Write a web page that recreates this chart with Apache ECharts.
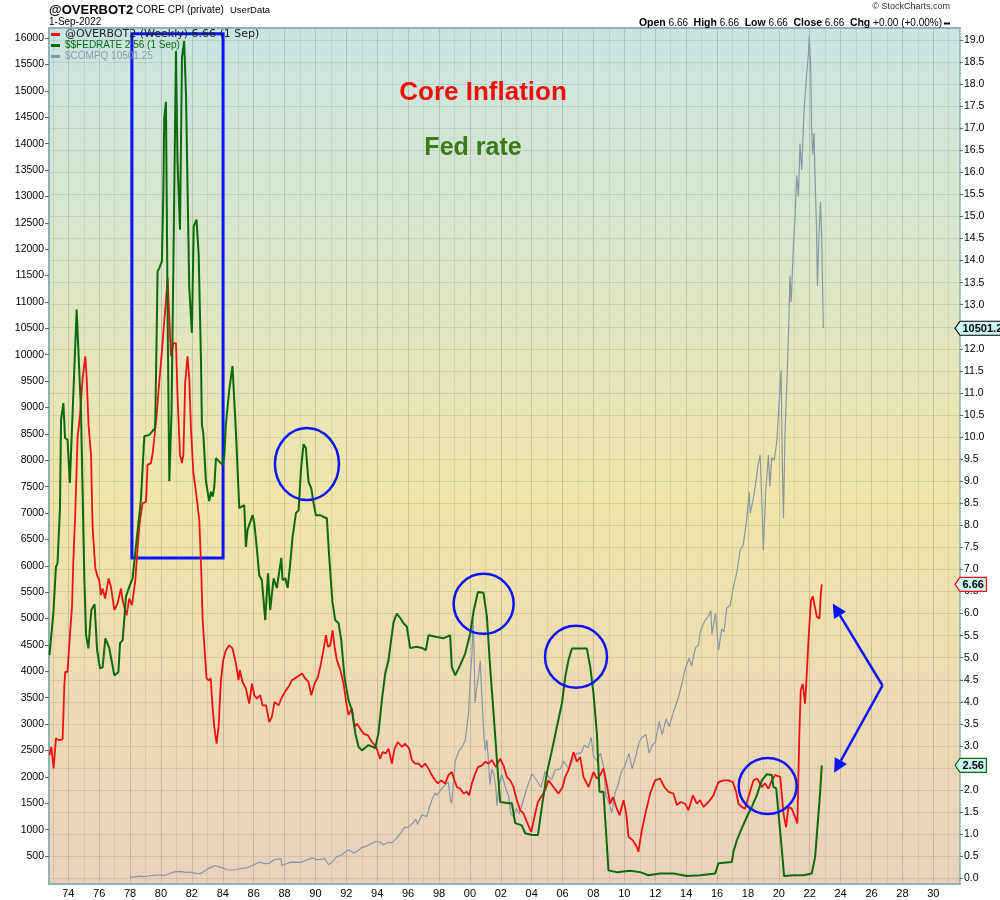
<!DOCTYPE html>
<html>
<head>
<meta charset="utf-8">
<style>
  html, body { margin: 0; padding: 0; background: #fff; }
  #chart { width: 1000px; height: 900px; }
</style>
<script src="https://cdn.jsdelivr.net/npm/echarts@6/dist/echarts.min.js"></script>
</head>
<body>
<div id="chart"></div>
<script>
// Core CPI (private), weekly user data, % y/y  -> right axis
const coreCpi = [
  [1972.78, 2.79], [1972.9, 2.98], [1973.05, 2.49], [1973.2, 3.17], [1973.4, 3.13], [1973.63, 3.15],
  [1973.74, 4.34], [1973.8, 4.68], [1973.95, 4.68], [1974.11, 5.55], [1974.24, 6.15], [1974.32, 7.14],
  [1974.45, 8.27], [1974.6, 9.98], [1974.76, 10.51], [1974.93, 11.34], [1975.1, 11.83], [1975.19, 11.34],
  [1975.31, 10.28], [1975.47, 9.6], [1975.57, 7.97], [1975.75, 7.02], [1975.9, 6.83], [1976.0, 6.76],
  [1976.12, 6.42], [1976.22, 6.57], [1976.38, 6.34], [1976.61, 6.8], [1976.76, 6.61], [1976.98, 6.08],
  [1977.19, 6.23], [1977.41, 6.57], [1977.52, 6.3], [1977.77, 5.96], [1977.95, 6.34], [1978.12, 6.19],
  [1978.34, 6.76], [1978.49, 7.51], [1978.64, 8.12], [1978.81, 8.5], [1979.03, 8.53], [1979.13, 9.37],
  [1979.35, 9.41], [1979.45, 9.6], [1979.57, 9.98], [1979.72, 10.51], [1979.89, 11.26], [1980.06, 11.94],
  [1980.21, 12.62], [1980.32, 13.08], [1980.43, 13.61], [1980.54, 12.7], [1980.65, 11.83], [1980.8, 12.13],
  [1980.97, 12.13], [1981.07, 10.96], [1981.23, 9.6], [1981.36, 9.41], [1981.45, 9.6], [1981.57, 11.26],
  [1981.72, 11.83], [1981.83, 11.34], [1981.94, 10.2], [1982.09, 9.22], [1982.26, 8.77], [1982.37, 8.8],
  [1982.48, 8.12], [1982.59, 7.14], [1982.7, 5.85], [1982.87, 4.94], [1982.95, 4.53], [1983.08, 4.49],
  [1983.22, 4.53], [1983.34, 3.88], [1983.45, 3.43], [1983.6, 3.05], [1983.73, 3.43], [1983.88, 4.49],
  [1984.03, 4.94], [1984.2, 5.17], [1984.42, 5.28], [1984.63, 5.21], [1984.85, 4.87], [1985.02, 4.49],
  [1985.1, 4.72], [1985.28, 4.45], [1985.5, 4.3], [1985.71, 3.96], [1985.89, 4.41], [1986.04, 4.15],
  [1986.21, 4.07], [1986.43, 4.15], [1986.57, 3.92], [1986.8, 3.92], [1987.01, 3.54], [1987.18, 3.66],
  [1987.35, 4.0], [1987.61, 3.92], [1987.83, 4.11], [1988.09, 4.26], [1988.26, 4.34], [1988.48, 4.49],
  [1988.8, 4.56], [1989.13, 4.64], [1989.34, 4.53], [1989.55, 4.45], [1989.73, 4.15], [1989.94, 4.41],
  [1990.16, 4.56], [1990.31, 4.79], [1990.52, 5.17], [1990.68, 5.51], [1990.81, 5.25], [1990.96, 5.28],
  [1991.11, 5.62], [1991.24, 5.25], [1991.39, 4.94], [1991.61, 4.72], [1991.82, 4.41], [1991.97, 4.04],
  [1992.14, 3.7], [1992.36, 3.85], [1992.53, 3.43], [1992.69, 3.51], [1992.9, 3.39], [1993.11, 3.28],
  [1993.4, 3.24], [1993.66, 3.09], [1993.92, 2.98], [1994.19, 2.71], [1994.34, 2.86], [1994.56, 2.83],
  [1994.73, 2.94], [1994.95, 2.6], [1995.12, 2.94], [1995.34, 3.09], [1995.6, 2.98], [1995.81, 3.05],
  [1996.07, 2.94], [1996.24, 2.68], [1996.46, 2.6], [1996.67, 2.6], [1996.89, 2.52], [1997.1, 2.6],
  [1997.32, 2.49], [1997.53, 2.34], [1997.75, 2.22], [1997.93, 2.15], [1998.14, 2.22], [1998.4, 2.15],
  [1998.61, 2.34], [1998.83, 2.41], [1999.0, 2.22], [1999.16, 2.07], [1999.37, 2.03], [1999.59, 1.92],
  [1999.8, 1.96], [1999.95, 1.88], [2000.13, 2.15], [2000.34, 2.37], [2000.52, 2.52], [2000.78, 2.56],
  [2000.99, 2.64], [2001.2, 2.6], [2001.42, 2.68], [2001.68, 2.52], [2001.96, 2.71], [2002.17, 2.56],
  [2002.39, 2.3], [2002.61, 2.22], [2002.82, 2.07], [2003.04, 1.77], [2003.26, 1.54], [2003.47, 1.47],
  [2003.69, 1.28], [2003.97, 1.05], [2004.23, 1.47], [2004.4, 1.73], [2004.61, 1.84], [2004.87, 2.0],
  [2005.09, 2.22], [2005.41, 2.07], [2005.74, 1.92], [2006.0, 2.07], [2006.17, 2.3], [2006.38, 2.45],
  [2006.71, 2.86], [2006.92, 2.64], [2007.14, 2.75], [2007.35, 2.3], [2007.68, 2.07], [2008.0, 2.41],
  [2008.22, 2.26], [2008.43, 2.34], [2008.65, 2.49], [2008.87, 2.11], [2009.08, 1.69], [2009.26, 1.84],
  [2009.47, 1.62], [2009.69, 1.43], [2009.95, 1.77], [2010.12, 1.47], [2010.27, 0.94], [2010.55, 0.86],
  [2010.81, 0.71], [2010.91, 0.6], [2011.13, 1.09], [2011.41, 1.54], [2011.67, 1.92], [2011.99, 2.22],
  [2012.32, 2.26], [2012.58, 2.07], [2012.86, 1.96], [2013.18, 1.92], [2013.4, 1.66], [2013.66, 1.73],
  [2013.94, 1.69], [2014.15, 1.54], [2014.44, 1.88], [2014.69, 1.69], [2014.91, 1.77], [2015.12, 1.62],
  [2015.45, 1.73], [2015.77, 1.88], [2016.09, 2.18], [2016.41, 2.22], [2016.74, 2.22], [2017.02, 2.18],
  [2017.24, 1.96], [2017.39, 1.69], [2017.6, 1.62], [2017.82, 1.58], [2018.03, 1.84], [2018.36, 2.22],
  [2018.61, 2.26], [2018.9, 2.07], [2019.11, 2.15], [2019.33, 2.03], [2019.55, 2.22], [2019.76, 2.34],
  [2020.09, 2.3], [2020.3, 1.47], [2020.47, 1.16], [2020.62, 1.62], [2020.84, 1.58], [2021.05, 1.39],
  [2021.2, 1.24], [2021.33, 3.28], [2021.42, 4.26], [2021.55, 4.41], [2021.7, 3.96], [2021.81, 4.64],
  [2021.92, 5.4], [2022.08, 6.3], [2022.2, 6.39], [2022.31, 6.38], [2022.46, 5.93], [2022.63, 5.89],
  [2022.72, 6.46], [2022.78, 6.66]
];

// $$FEDRATE, %  -> right axis
const fedRate = [
  [1972.78, 5.06], [1973.03, 6.0], [1973.2, 7.06], [1973.3, 7.14], [1973.46, 8.39], [1973.53, 10.39],
  [1973.68, 10.77], [1973.79, 9.98], [1973.95, 9.94], [1974.1, 8.96], [1974.54, 12.89], [1974.82, 10.6],
  [1975.04, 6.76], [1975.15, 5.51], [1975.3, 5.21], [1975.49, 6.08], [1975.7, 6.21], [1975.86, 5.19],
  [1976.05, 4.76], [1976.22, 4.78], [1976.4, 5.44], [1976.65, 5.22], [1976.8, 4.94], [1976.98, 4.6],
  [1977.24, 4.67], [1977.35, 5.33], [1977.52, 5.4], [1977.73, 6.38], [1977.95, 6.61], [1978.16, 6.8],
  [1978.42, 7.66], [1978.7, 8.57], [1978.92, 10.02], [1979.24, 10.05], [1979.6, 10.2], [1979.63, 10.36],
  [1979.75, 13.0], [1979.78, 13.76], [1979.89, 13.83], [1980.06, 13.99], [1980.15, 15.5], [1980.21, 17.23],
  [1980.32, 17.6], [1980.45, 12.0], [1980.54, 9.0], [1980.68, 10.5], [1980.8, 13.8], [1980.97, 18.75],
  [1981.07, 16.26], [1981.23, 14.7], [1981.36, 18.6], [1981.5, 18.98], [1981.62, 17.76], [1981.83, 13.38],
  [1982.0, 12.36], [1982.12, 14.78], [1982.3, 14.93], [1982.44, 14.14], [1982.59, 11.72], [1982.65, 10.27],
  [1982.74, 10.09], [1982.91, 9.0], [1983.12, 8.55], [1983.24, 8.76], [1983.35, 8.65], [1983.45, 8.87],
  [1983.56, 9.52], [1983.77, 9.45], [1983.99, 9.37], [1984.1, 9.57], [1984.2, 10.28], [1984.42, 11.07],
  [1984.63, 11.61], [1984.86, 10.05], [1985.07, 8.39], [1985.39, 8.46], [1985.5, 7.51], [1985.6, 7.89],
  [1985.93, 8.23], [1986.04, 8.05], [1986.2, 7.5], [1986.36, 6.87], [1986.53, 6.76], [1986.75, 5.85],
  [1986.93, 6.91], [1987.07, 6.08], [1987.29, 6.8], [1987.5, 6.58], [1987.79, 7.26], [1987.87, 6.76],
  [1988.05, 6.8], [1988.2, 6.58], [1988.37, 7.14], [1988.52, 7.74], [1988.74, 8.28], [1988.91, 8.34],
  [1989.06, 9.25], [1989.23, 9.84], [1989.38, 9.75], [1989.55, 8.99], [1989.73, 8.84], [1989.88, 8.5],
  [1990.03, 8.23], [1990.31, 8.23], [1990.52, 8.19], [1990.74, 8.16], [1990.89, 7.29], [1991.1, 6.27],
  [1991.28, 5.85], [1991.5, 5.78], [1991.67, 5.4], [1991.88, 4.56], [1992.14, 4.04], [1992.36, 3.81],
  [1992.58, 3.29], [1992.79, 2.98], [1993.01, 2.9], [1993.44, 3.02], [1993.87, 2.95], [1994.08, 3.29],
  [1994.3, 4.04], [1994.52, 4.65], [1994.73, 4.94], [1994.9, 5.4], [1995.06, 5.81], [1995.27, 6.0],
  [1995.49, 5.9], [1995.7, 5.78], [1995.92, 5.7], [1996.13, 5.22], [1996.57, 5.25], [1996.89, 5.22],
  [1997.15, 5.17], [1997.32, 5.51], [1997.86, 5.47], [1998.29, 5.44], [1998.72, 5.51], [1998.83, 4.79],
  [1999.05, 4.6], [1999.37, 4.83], [1999.7, 5.1], [2000.02, 5.55], [2000.23, 6.04], [2000.52, 6.49],
  [2000.88, 6.47], [2001.1, 5.93], [2001.31, 4.79], [2001.53, 3.74], [2001.75, 2.68], [2001.96, 1.73],
  [2002.5, 1.7], [2002.72, 1.7], [2002.93, 1.25], [2003.36, 1.2], [2003.58, 1.02], [2004.01, 0.98],
  [2004.4, 0.98], [2004.66, 1.62], [2004.98, 2.38], [2005.31, 2.9], [2005.63, 3.43], [2005.96, 3.97],
  [2006.17, 4.56], [2006.38, 4.94], [2006.6, 5.21], [2007.14, 5.21], [2007.57, 5.21], [2007.79, 4.79],
  [2008.0, 4.19], [2008.22, 3.29], [2008.39, 1.96], [2008.65, 1.96], [2008.82, 1.02], [2008.97, 0.18],
  [2009.51, 0.14], [2010.37, 0.17], [2011.02, 0.14], [2011.56, 0.07], [2012.32, 0.11], [2013.18, 0.11],
  [2014.05, 0.05], [2014.91, 0.07], [2015.88, 0.11], [2016.09, 0.34], [2016.96, 0.37], [2017.06, 0.6],
  [2017.28, 0.86], [2017.6, 1.13], [2017.93, 1.39], [2018.25, 1.62], [2018.57, 1.88], [2018.9, 2.22],
  [2019.22, 2.36], [2019.55, 2.34], [2019.65, 2.07], [2019.83, 2.04], [2019.98, 1.47], [2020.2, 0.63],
  [2020.34, 0.05], [2020.95, 0.07], [2021.59, 0.07], [2022.13, 0.11], [2022.35, 0.48], [2022.5, 1.16],
  [2022.67, 1.92], [2022.78, 2.56]
];

// $COMPQ -> left axis
const compq = [
  [1978.01, 100], [1978.3, 105], [1978.6, 118], [1978.85, 110], [1979.2, 122], [1979.5, 135], [1979.8, 140],
  [1979.95, 145], [1980.2, 130], [1980.5, 160], [1980.85, 200], [1981.25, 210], [1981.6, 190], [1981.9, 195],
  [1982.3, 170], [1982.54, 165], [1982.9, 230], [1983.2, 280], [1983.5, 320], [1983.9, 280], [1984.3, 240],
  [1984.6, 235], [1984.9, 245], [1985.3, 270], [1985.57, 275], [1985.9, 320], [1986.2, 360], [1986.43, 385],
  [1986.7, 355], [1987.0, 360], [1987.3, 430], [1987.6, 440], [1987.78, 450], [1987.82, 320], [1987.94, 310],
  [1988.3, 375], [1988.6, 385], [1989.02, 380], [1989.4, 420], [1989.78, 465], [1990.1, 430], [1990.42, 440],
  [1990.6, 450], [1990.85, 335], [1991.1, 390], [1991.39, 490], [1991.7, 520], [1991.95, 580], [1992.14, 620],
  [1992.47, 560], [1992.7, 590], [1993.01, 660], [1993.3, 690], [1993.66, 740], [1993.98, 780], [1994.2, 760],
  [1994.41, 710], [1994.7, 760], [1994.95, 750], [1995.2, 820], [1995.5, 930], [1995.75, 1040], [1996.03, 1050],
  [1996.3, 1120], [1996.5, 1200], [1996.6, 1100], [1996.9, 1280], [1997.22, 1250], [1997.35, 1400],
  [1997.54, 1560], [1997.75, 1700], [1997.86, 1650], [1998.1, 1750], [1998.4, 1850], [1998.6, 1900],
  [1998.75, 1550], [1998.83, 1500], [1999.05, 2300], [1999.3, 2500], [1999.48, 2550], [1999.7, 2700],
  [1999.91, 3200], [2000.05, 4000], [2000.13, 4300], [2000.2, 5050], [2000.27, 4400], [2000.33, 3400],
  [2000.45, 3700], [2000.55, 3900], [2000.67, 4200], [2000.78, 3500], [2000.9, 2800], [2000.99, 2500],
  [2001.1, 2700], [2001.2, 2300], [2001.3, 1850], [2001.42, 2150], [2001.55, 2050], [2001.68, 1800],
  [2001.75, 1450], [2001.85, 1750], [2002.06, 2050], [2002.3, 1800], [2002.5, 1650], [2002.65, 1300],
  [2002.82, 1250], [2003.0, 1400], [2003.2, 1300], [2003.4, 1500], [2003.7, 1800], [2004.01, 2050],
  [2004.3, 1950], [2004.6, 1800], [2004.87, 2100], [2005.1, 2000], [2005.3, 1950], [2005.52, 2130],
  [2005.85, 2150], [2006.06, 2300], [2006.4, 2150], [2006.71, 2350], [2006.95, 2450], [2007.2, 2450],
  [2007.4, 2600], [2007.65, 2550], [2007.85, 2750], [2008.0, 2400], [2008.22, 2300], [2008.45, 2450],
  [2008.65, 2200], [2008.8, 1650], [2008.95, 1550], [2009.19, 1320], [2009.4, 1700], [2009.6, 1850],
  [2009.8, 2100], [2010.03, 2200], [2010.3, 2450], [2010.5, 2150], [2010.7, 2350], [2010.95, 2650],
  [2011.13, 2750], [2011.4, 2800], [2011.6, 2450], [2011.8, 2600], [2012.0, 2650], [2012.25, 3050],
  [2012.45, 2800], [2012.7, 3100], [2012.9, 2950], [2013.2, 3250], [2013.5, 3500], [2013.75, 3800],
  [2013.94, 4050], [2014.2, 4250], [2014.35, 4100], [2014.6, 4450], [2014.8, 4500], [2014.91, 4750],
  [2015.2, 4950], [2015.45, 5050], [2015.6, 5150], [2015.67, 4700], [2015.9, 5100], [2016.1, 4400],
  [2016.3, 4800], [2016.45, 4750], [2016.63, 5200], [2016.85, 5250], [2017.06, 5600], [2017.3, 5900],
  [2017.5, 6300], [2017.7, 6400], [2017.93, 6900], [2018.08, 7400], [2018.15, 7000], [2018.3, 7200],
  [2018.47, 7500], [2018.65, 7900], [2018.79, 8100], [2018.88, 7400], [2019.0, 6300], [2019.15, 7400],
  [2019.33, 8100], [2019.42, 7500], [2019.55, 8050], [2019.7, 8000], [2019.87, 8350], [2020.0, 9000],
  [2020.15, 9700], [2020.22, 8000], [2020.3, 6900], [2020.4, 8500], [2020.55, 9700], [2020.65, 10600],
  [2020.72, 11500], [2020.8, 11000], [2020.95, 12100], [2021.05, 12600], [2021.16, 13400], [2021.27, 13000],
  [2021.37, 14000], [2021.48, 13500], [2021.63, 14600], [2021.8, 15300], [2021.92, 15700], [2021.97, 16050],
  [2022.06, 15500], [2022.12, 14300], [2022.19, 13800], [2022.28, 14200], [2022.35, 13300], [2022.43, 12500],
  [2022.5, 11300], [2022.6, 12300], [2022.7, 12900], [2022.78, 12200], [2022.88, 10501.25]
];

function range(a, b, step) {
  const out = [];
  for (let v = a; v <= b + 1e-9; v += step) out.push(Math.round(v * 100) / 100);
  return out;
}

const yearTicks = range(1973, 2031, 1);
const yearLabels = range(1974, 2030, 2);
const leftTicks = range(500, 16000, 500);
const rightTicks = range(0, 19, 0.5);

const legendText = {
  OVERBOT2: '@OVERBOT2 (Weekly) 6.66 (1 Sep)',
  FEDRATE: '$$FEDRATE 2.56 (1 Sep)',
  COMPQ: '$COMPQ 10501.25'
};

// annotations, in [year, rate] on the right axis
const boxNote = [[1978.12, 19.14], [1984.02, 7.26]];
const circleNotes = [
  { at: [1989.45, 9.39], rx: 32, ry: 36 },
  { at: [2000.89, 6.22], rx: 30, ry: 30 },
  { at: [2006.87, 5.02], rx: 31, ry: 31 },
  { at: [2019.28, 2.09], rx: 29, ry: 28 }
];
const arrowNote = { from: [2026.71, 4.37], to: [[2023.49, 6.23], [2023.58, 2.39]] };

const FONT = '"Liberation Sans", Arial, sans-serif';
const RED = '#ee1111';
const GREEN = '#0b6b0b';
const GRAY = '#8797a3';
const BLUE = '#0a14ff';
const BORDER = '#8fb2b6';

const chart = echarts.init(document.getElementById('chart'));

chart.setOption({
  animation: false,
  backgroundColor: '#ffffff',
  grid: {
    left: 49, top: 28, right: 40, bottom: 16,
    show: true,
    borderWidth: 0,
    backgroundColor: new echarts.graphic.LinearGradient(0, 0, 0, 1, [
      { offset: 0, color: '#c8e5e2' },
      { offset: 0.28, color: '#dce6c8' },
      { offset: 0.55, color: '#f1e5a9' },
      { offset: 0.78, color: '#eedab4' },
      { offset: 1, color: '#ebd1bd' }
    ])
  },
  legend: {
    left: 51, top: 29, orient: 'vertical', padding: 0, itemGap: 0,
    itemWidth: 9, itemHeight: 3, icon: 'rect', selectedMode: false,
    formatter: name => legendText[name],
    textStyle: { lineHeight: 11, fontFamily: FONT, fontSize: 10 },
    data: [
      { name: 'OVERBOT2', textStyle: { color: '#222', fontFamily: '"DejaVu Sans", sans-serif', fontSize: 11 } },
      { name: 'FEDRATE', textStyle: { color: GREEN } },
      { name: 'COMPQ', textStyle: { color: '#8d9ba6' } }
    ]
  },
  xAxis: [{
    type: 'value', min: 1972.75, max: 2031.73,
    axisLine: { show: true, onZero: false, lineStyle: { color: BORDER, width: 2 } },
    axisTick: { show: false, customValues: yearTicks },
    axisLabel: {
      customValues: yearLabels, margin: 4, color: '#000', fontSize: 11, fontFamily: FONT,
      formatter: v => String(Math.round(v) % 100).padStart(2, '0')
    },
    splitLine: {
      show: true,
      lineStyle: { color: ['rgba(90,110,80,0.12)', 'rgba(90,110,80,0.26)'], width: 1 }
    }
  }, {
    type: 'value', position: 'top', min: 0, max: 1,
    axisLine: { show: true, onZero: false, lineStyle: { color: BORDER, width: 2 } },
    axisTick: { show: false }, axisLabel: { show: false }, splitLine: { show: false }
  }],
  yAxis: [{
    type: 'value', position: 'left', min: -30, max: 16191,
    axisLine: { show: true, onZero: false, lineStyle: { color: BORDER, width: 2 } },
    axisTick: { show: true, customValues: leftTicks, length: 4, lineStyle: { color: '#666' } },
    axisLabel: {
      customValues: leftTicks, margin: 5, color: '#000', fontSize: 10.5, fontFamily: FONT,
      formatter: v => String(Math.round(v))
    },
    splitLine: { show: false }
  }, {
    type: 'value', position: 'right', min: -0.129, max: 19.272,
    axisLine: { show: true, onZero: false, lineStyle: { color: '#7fa6ae', width: 1.5, type: 'dotted' } },
    axisTick: { show: true, customValues: rightTicks, length: 3, lineStyle: { color: '#666' } },
    axisLabel: {
      customValues: rightTicks, margin: 4, color: '#000', fontSize: 10.5, fontFamily: FONT,
      formatter: v => v.toFixed(1)
    },
    splitLine: { show: true, lineStyle: { color: 'rgba(90,110,80,0.16)', width: 1 } }
  }],
  series: [{
    name: 'COMPQ', type: 'line', xAxisIndex: 0, yAxisIndex: 0, data: compq,
    symbol: 'none', silent: true, z: 2,
    itemStyle: { color: GRAY }, lineStyle: { color: GRAY, width: 1.2 }
  }, {
    name: 'OVERBOT2', type: 'line', xAxisIndex: 0, yAxisIndex: 1, data: coreCpi,
    symbol: 'none', silent: true, z: 3,
    itemStyle: { color: RED }, lineStyle: { color: RED, width: 1.8 }
  }, {
    name: 'FEDRATE', type: 'line', xAxisIndex: 0, yAxisIndex: 1, data: fedRate,
    symbol: 'none', silent: true, z: 4,
    itemStyle: { color: GREEN }, lineStyle: { color: GREEN, width: 2 },
    markArea: {
      silent: true,
      itemStyle: { color: 'rgba(0,0,0,0)', borderColor: BLUE, borderWidth: 3 },
      data: [[{ xAxis: boxNote[0][0], yAxis: boxNote[0][1] }, { xAxis: boxNote[1][0], yAxis: boxNote[1][1] }]]
    }
  }]
});

// ---- overlays: header, notes, circles, arrows, last-value tags
const toPx = p => chart.convertToPixel({ seriesIndex: 2 }, p);
const measure = (() => {
  const ctx = document.createElement('canvas').getContext('2d');
  return (text, font) => { ctx.font = font; return ctx.measureText(text).width; };
})();

function text(x, y, str, font, fill, align) {
  return {
    type: 'text', z: 100, silent: true,
    style: {
      x, y, text: str, font, fill,
      align: align || 'left', verticalAlign: 'middle',
      textAlign: align || 'left', textVerticalAlign: 'middle'
    }
  };
}

function tag(y, str, border) {
  const font = 'bold 11px ' + FONT;
  const w = measure(str, font) + 5;
  const x0 = 960, h = 14;
  return [{
    type: 'polygon', z: 100, silent: true,
    shape: { points: [[955, y], [x0, y - h / 2], [x0 + w, y - h / 2], [x0 + w, y + h / 2], [x0, y + h / 2]] },
    style: { fill: '#cdf7f7', stroke: border, lineWidth: 1.2 }
  }, text(x0 + 2.5, y + 0.5, str, font, '#000', 'left')];
}

function arrow(from, to) {
  const dx = to[0] - from[0], dy = to[1] - from[1];
  const len = Math.hypot(dx, dy), ux = dx / len, uy = dy / len;
  const headLen = 14, headW = 7;
  const bx = to[0] - ux * headLen, by = to[1] - uy * headLen;
  return [{
    type: 'line', z: 100, silent: true,
    shape: { x1: from[0], y1: from[1], x2: bx, y2: by },
    style: { stroke: BLUE, lineWidth: 2.5 }
  }, {
    type: 'polygon', z: 100, silent: true,
    shape: { points: [to, [bx - uy * headW, by + ux * headW], [bx + uy * headW, by - ux * headW]] },
    style: { fill: BLUE }
  }];
}

const graphics = [];
graphics.push(text(49, 10, '@OVERBOT2', 'bold 13px ' + FONT, '#000'));
graphics.push(text(136, 10, 'CORE CPI (private)', '10px ' + FONT, '#000'));
graphics.push(text(230, 10.5, 'UserData', '9.5px ' + FONT, '#000'));
graphics.push(text(49, 22.5, '1-Sep-2022', '10px ' + FONT, '#000'));
graphics.push(text(950, 7, '\u00a9 StockCharts.com', '9px ' + FONT, '#333', 'right'));
graphics.push({
  type: 'text', z: 100, silent: true,
  style: {
    x: 942, y: 23, align: 'right', verticalAlign: 'middle', textAlign: 'right', textVerticalAlign: 'middle',
    text: '{b|Open} 6.66  {b|High} 6.66  {b|Low} 6.66  {b|Close} 6.66  {b|Chg} +0.00 (+0.00%)',
    font: '10px ' + FONT, fill: '#000',
    rich: { b: { font: 'bold 10.5px ' + FONT, fill: '#000' } }
  }
});
graphics.push({
  type: 'line', z: 100, silent: true,
  shape: { x1: 944, y1: 23.5, x2: 950, y2: 23.5 }, style: { stroke: '#000', lineWidth: 2 }
});

graphics.push(text(483, 93, 'Core Inflation', 'bold 26px ' + FONT, '#f20d0d', 'center'));
graphics.push(text(473, 148, 'Fed rate', 'bold 25px ' + FONT, '#3b7a17', 'center'));

circleNotes.forEach(c => {
  const [cx, cy] = toPx(c.at);
  graphics.push({
    type: 'ellipse', z: 100, silent: true,
    shape: { cx, cy, rx: c.rx, ry: c.ry },
    style: { fill: 'none', stroke: BLUE, lineWidth: 2.5 }
  });
});

const arrowFrom = toPx(arrowNote.from);
arrowNote.to.forEach(t => graphics.push(...arrow(arrowFrom, toPx(t))));

const lastCpi = coreCpi[coreCpi.length - 1][1];
const lastFed = fedRate[fedRate.length - 1][1];
const lastComp = compq[compq.length - 1][1];
const trunc1 = v => (Math.floor(v * 10) / 10).toFixed(1);
graphics.push(...tag(chart.convertToPixel({ yAxisIndex: 0 }, lastComp), trunc1(lastComp), '#000'));
graphics.push(...tag(chart.convertToPixel({ yAxisIndex: 1 }, lastCpi), lastCpi.toFixed(2), RED));
graphics.push(...tag(chart.convertToPixel({ yAxisIndex: 1 }, lastFed), lastFed.toFixed(2), GREEN));

chart.setOption({ graphic: graphics });
</script>
</body>
</html>
